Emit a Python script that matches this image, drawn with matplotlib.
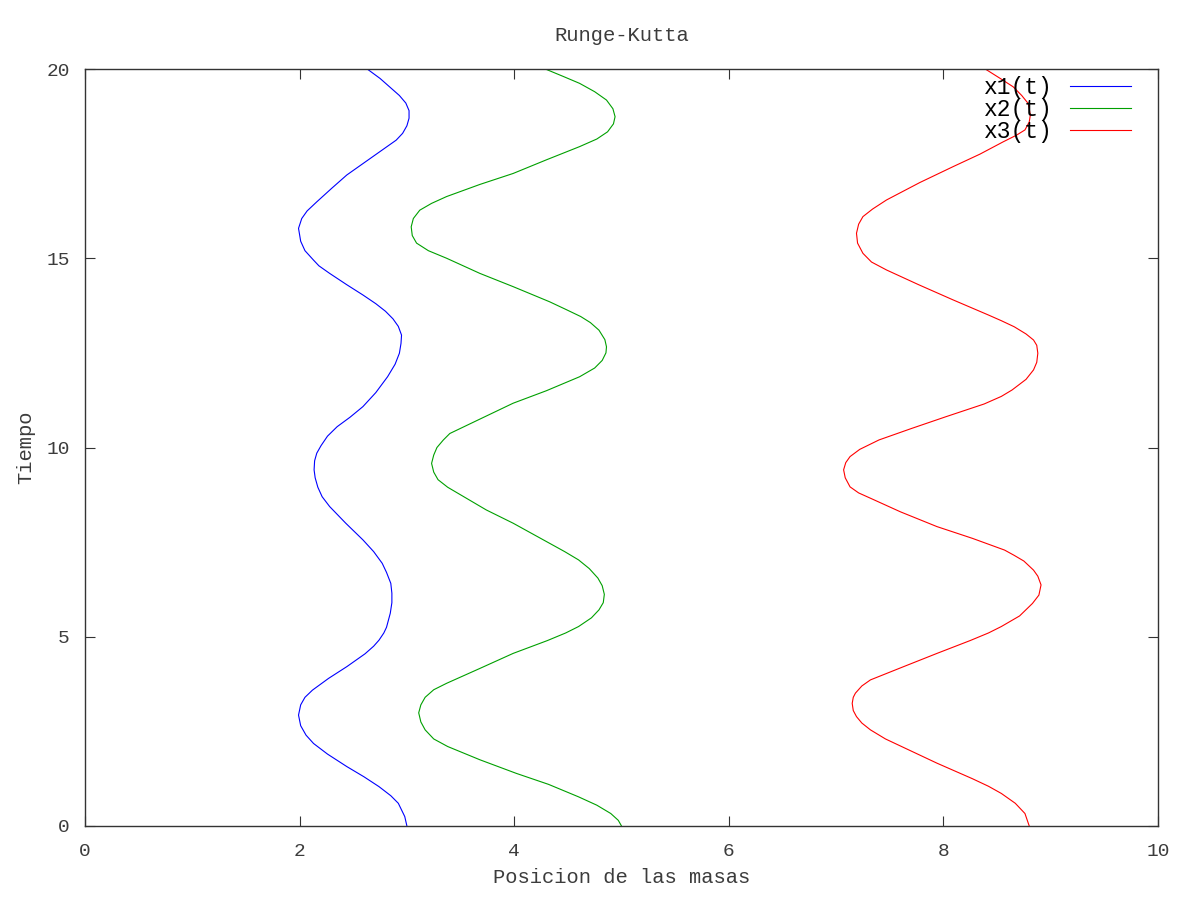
import matplotlib
matplotlib.use("Agg")
import matplotlib.pyplot as plt

# valores (tiempo, posicion)
t1 = [0, 0.25, 0.6, 0.8, 1.04, 1.3, 1.57, 1.9, 2.18, 2.4, 2.65, 2.93, 3.2, 3.4, 3.59, 3.9,
      4.21, 4.55, 4.75, 4.91, 5.1, 5.25, 5.62, 5.9, 6.15, 6.41, 6.7, 6.94, 7.25, 7.56, 8.0,
      8.44, 8.7, 8.95, 9.2, 9.41, 9.65, 9.85, 10.05, 10.3, 10.55, 10.8, 11.08, 11.45,
      11.87, 12.2, 12.49, 12.75, 12.97, 13.2, 13.4, 13.6, 13.8, 14.03, 14.3, 14.6, 14.8,
      14.95, 15.2, 15.45, 15.79, 16.05, 16.25, 16.49, 16.85, 17.2, 17.5, 17.82, 18.12,
      18.3, 18.5, 18.7, 18.9, 19.1, 19.3, 19.5, 19.75, 20.0]
x1 = [3.00, 2.98, 2.92, 2.85, 2.74, 2.60, 2.44, 2.26, 2.13, 2.06, 2.01, 1.99, 2.01, 2.05, 2.12, 2.27,
      2.44, 2.61, 2.69, 2.74, 2.785, 2.81, 2.845, 2.86, 2.86, 2.85, 2.81, 2.77, 2.69, 2.59, 2.43,
      2.28, 2.21, 2.17, 2.145, 2.135, 2.14, 2.16, 2.20, 2.26, 2.35, 2.47, 2.59, 2.71,
      2.82, 2.89, 2.93, 2.945, 2.95, 2.92, 2.87, 2.80, 2.71, 2.59, 2.44, 2.28, 2.18,
      2.13, 2.05, 2.01, 1.99, 2.02, 2.07, 2.16, 2.30, 2.44, 2.59, 2.75, 2.90,
      2.96, 3.00, 3.02, 3.02, 2.99, 2.93, 2.85, 2.75, 2.63]

t2 = [0, 0.15, 0.33, 0.55, 0.77, 1.1, 1.39, 1.75, 2.1, 2.3, 2.54, 2.75, 2.99, 3.2, 3.4, 3.6,
      3.77, 4.15, 4.56, 4.9, 5.1, 5.27, 5.5, 5.71, 5.9, 6.12, 6.35, 6.55, 6.8, 7.03, 7.25,
      7.5, 8.0, 8.35, 8.7, 8.95, 9.15, 9.35, 9.58, 9.8, 10.0, 10.2, 10.37, 10.75, 11.17,
      11.5, 11.87, 12.1, 12.3, 12.5, 12.66, 12.85, 13.1, 13.3, 13.46, 13.65, 13.85, 14.25,
      14.6, 15.0, 15.2, 15.4, 15.6, 15.83, 16.05, 16.27, 16.45, 16.63, 16.95, 17.24, 17.6,
      17.95, 18.15, 18.34, 18.55, 18.74, 18.95, 19.18, 19.4, 19.62, 19.8, 20.0]
x2 = [5.00, 4.97, 4.90, 4.77, 4.60, 4.32, 4.02, 3.68, 3.38, 3.25, 3.17, 3.13, 3.11, 3.13, 3.17, 3.25,
      3.37, 3.67, 3.99, 4.31, 4.48, 4.60, 4.72, 4.79, 4.83, 4.84, 4.82, 4.78, 4.70, 4.60, 4.47,
      4.31, 3.99, 3.74, 3.53, 3.38, 3.29, 3.25, 3.23, 3.25, 3.28, 3.34, 3.40, 3.68, 3.99,
      4.30, 4.61, 4.75, 4.82, 4.855, 4.86, 4.845, 4.79, 4.71, 4.62, 4.48, 4.33, 3.99,
      3.68, 3.37, 3.20, 3.09, 3.05, 3.04, 3.06, 3.12, 3.23, 3.37, 3.68, 3.99, 4.30,
      4.61, 4.77, 4.87, 4.925, 4.94, 4.92, 4.86, 4.75, 4.61, 4.46, 4.29]

t3 = [0, 0.33, 0.6, 0.86, 1.05, 1.25, 1.66, 2.1, 2.3, 2.54, 2.72, 2.89, 3.05, 3.24, 3.4, 3.51,
      3.7, 3.86, 4.2, 4.56, 4.9, 5.1, 5.27, 5.55, 5.88, 6.1, 6.37, 6.6, 6.76, 7.0, 7.15, 7.29,
      7.6, 7.91, 8.3, 8.66, 8.8, 8.96, 9.2, 9.41, 9.6, 9.76, 9.95, 10.2, 10.5, 10.81, 11.15,
      11.35, 11.52, 11.8, 12.05, 12.25, 12.49, 12.7, 12.84, 13.0, 13.19, 13.35, 13.5, 13.9,
      14.3, 14.69, 14.9, 15.13, 15.4, 15.66, 15.9, 16.1, 16.3, 16.54, 17.0, 17.42, 17.75,
      18.08, 18.25, 18.39, 18.6, 18.78, 18.95, 19.09, 19.3, 19.53, 19.75, 20.0]
x3 = [8.80, 8.76, 8.67, 8.54, 8.42, 8.27, 7.94, 7.61, 7.46, 7.32, 7.24, 7.19, 7.16, 7.15, 7.16, 7.18,
      7.24, 7.32, 7.62, 7.94, 8.25, 8.42, 8.54, 8.71, 8.83, 8.89, 8.91, 8.88, 8.84, 8.75, 8.66, 8.57,
      8.27, 7.94, 7.60, 7.32, 7.21, 7.13, 7.085, 7.07, 7.09, 7.13, 7.22, 7.40, 7.70, 8.02, 8.38,
      8.54, 8.64, 8.77, 8.84, 8.87, 8.88, 8.87, 8.84, 8.77, 8.66, 8.54, 8.42, 8.09,
      7.77, 7.47, 7.33, 7.25, 7.20, 7.19, 7.21, 7.25, 7.34, 7.47, 7.78, 8.09, 8.34,
      8.56, 8.68, 8.76, 8.80, 8.81, 8.80, 8.79, 8.73, 8.65, 8.53, 8.39]

plt.rcParams["font.family"] = ["Liberation Mono", "DejaVu Sans Mono"]

fig = plt.figure(figsize=(12, 9), dpi=100)
ax = fig.add_axes([85/1200, 74/900, 1073/1200, 757/900])

ax.plot(x1, t1, color="#0000ff", lw=0.8, label="x1(t)")
ax.plot(x2, t2, color="#00a000", lw=0.8, label="x2(t)")
ax.plot(x3, t3, color="#ff0000", lw=0.8, label="x3(t)")

ax.set_xlim(0, 10)
ax.set_ylim(0, 20)
ax.set_xticks([0, 2, 4, 6, 8, 10])
ax.set_yticks([0, 5, 10, 15, 20])
ax.tick_params(direction="in", length=7, width=0.8, top=True, right=True,
               labelsize=14, colors="#333333", labelcolor="#3c3c3c")
ax.tick_params(axis="x", pad=12)
ax.tick_params(axis="y", pad=11)
for s in ax.spines.values():
    s.set_linewidth(1.0)
    s.set_color("#333333")

ax.set_title("Runge-Kutta", fontsize=14.8, color="#3c3c3c", pad=20)
ax.set_xlabel("Posicion de las masas", fontsize=14.8, color="#3c3c3c", labelpad=6)
ax.set_ylabel("Tiempo", fontsize=14.8, color="#3c3c3c", labelpad=8)

leg = ax.legend(loc="upper right", bbox_to_anchor=(1131/1200, 1 - 76/900),
                bbox_transform=fig.transFigure, frameon=False, markerfirst=False,
                fontsize=16.5, handlelength=2.66, handletextpad=0.75,
                labelspacing=-0.05, borderaxespad=0, borderpad=0)

fig.savefig("out.png", dpi=100)
